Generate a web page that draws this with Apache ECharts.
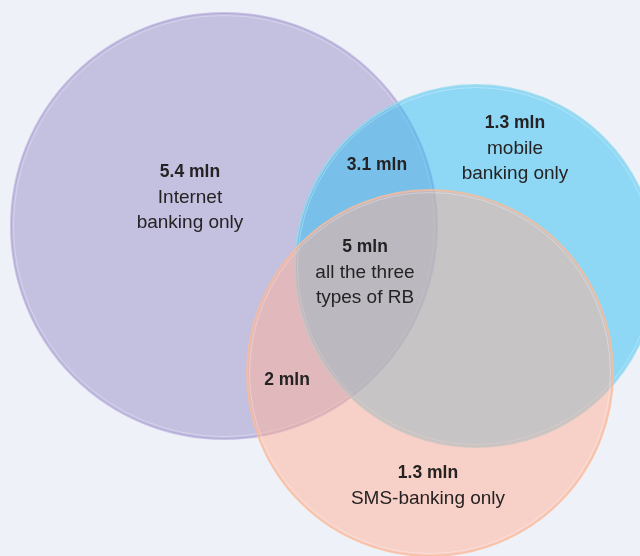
<!DOCTYPE html>
<html>
<head>
<meta charset="utf-8">
<script src="https://cdn.jsdelivr.net/npm/echarts@6/dist/echarts.min.js"></script>
<style>
html,body{margin:0;padding:0;background:#eef1f8;}
#chart{width:640px;height:556px;}
</style>
</head>
<body>
<div id="chart"></div>
<script>
// Circles (sets) in chart units
const circleNames = ['Internet banking', 'Mobile banking', 'SMS-banking'];
const circleCX = [224, 476, 430];
const circleCY = [226, 266, 373];
const circleR = [213, 181, 183];

// Region values (mln) and descriptions
const regionValues = [5.4, 3.1, 1.3, 5, 2, 1.3];
const regionUnit = 'mln';
const regionDesc = [
  ['Internet', 'banking only'],
  [],
  ['mobile', 'banking only'],
  ['all the three', 'types of RB'],
  [],
  ['SMS-banking only']
];
const regionX = [190, 377, 515, 365, 287, 428];
const regionY = [172, 165, 123, 247, 380, 473];

// styles
const circleFill = ['rgba(184,180,217,0.8)', 'rgba(46,191,244,0.5)', 'rgba(255,175,150,0.5)'];
const circleStroke = ['rgba(170,155,212,0.55)', 'rgba(150,218,238,0.8)', 'rgba(250,188,155,0.8)'];
const textColor = '#262223';
const fontFamily = '"Liberation Sans", Arial, sans-serif';
const lineStep = 25.5;

const chart = echarts.init(document.getElementById('chart'), null, {renderer: 'canvas'});

const circleData = circleNames.map((n, i) => ({name: n, value: [circleCX[i], circleCY[i], circleR[i], i]}));
const labelData = regionValues.map((v, i) => ({name: String(v), value: [regionX[i], regionY[i], i]}));

chart.setOption({
  backgroundColor: '#eef1f8',
  animation: false,
  grid: {left: 0, right: 0, top: 0, bottom: 0, containLabel: false},
  xAxis: {type: 'value', min: 0, max: 640, show: false},
  yAxis: {type: 'value', min: 0, max: 556, inverse: true, show: false},
  series: [
    {
      type: 'custom',
      clip: false,
      data: circleData,
      encode: {x: 0, y: 1},
      renderItem: function (params, api) {
        const c = api.coord([api.value(0), api.value(1)]);
        const r = api.size([api.value(2), 0])[0];
        const i = api.value(3);
        return {
          type: 'group',
          children: [
            {type: 'circle', shape: {cx: c[0], cy: c[1], r: r},
             style: {fill: circleFill[i], stroke: circleStroke[i], lineWidth: 2}},
            {type: 'circle', shape: {cx: c[0], cy: c[1], r: r - 2.5},
             style: {fill: 'none', stroke: 'rgba(255,255,255,0.3)', lineWidth: 1}}
          ]
        };
      }
    },
    {
      type: 'custom',
      clip: false,
      data: labelData,
      encode: {x: 0, y: 1},
      renderItem: function (params, api) {
        const c = api.coord([api.value(0), api.value(1)]);
        const i = api.value(2);
        const children = [{
          type: 'text', x: c[0], y: c[1],
          style: {text: regionValues[i] + ' ' + regionUnit, fill: textColor,
            fontSize: 17.5, fontWeight: 'bold', fontFamily: fontFamily,
            align: 'center', verticalAlign: 'middle'}
        }];
        regionDesc[i].forEach(function (line, k) {
          children.push({
            type: 'text', x: c[0], y: c[1] + lineStep * (k + 1),
            style: {text: line, fill: textColor, fontSize: 19, fontFamily: fontFamily,
              align: 'center', verticalAlign: 'middle'}
          });
        });
        return {type: 'group', children: children};
      }
    }
  ]
});
</script>
</body>
</html>
